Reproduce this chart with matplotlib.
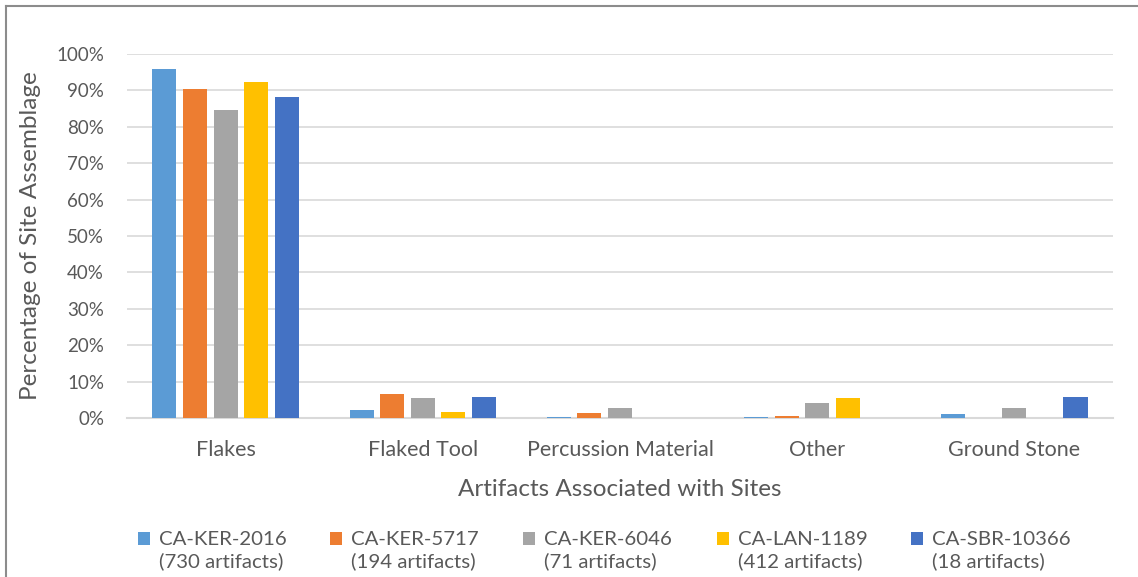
import matplotlib.pyplot as plt
import numpy as np
from matplotlib.patches import Patch
from matplotlib.lines import Line2D

plt.rcParams['font.family'] = ['Lato', 'DejaVu Sans']

categories = ['Flakes', 'Flaked Tool', 'Percussion Material', 'Other', 'Ground Stone']
sites = ['CA-KER-2016', 'CA-KER-5717', 'CA-KER-6046', 'CA-LAN-1189', 'CA-SBR-10366']
counts = ['(730 artifacts)', '(194 artifacts)', '(71 artifacts)', '(412 artifacts)', '(18 artifacts)']

# percent of each site's assemblage, per category
ker_2016 = [96.0, 2.2, 0.3, 0.4, 1.0]
ker_5717 = [90.4, 6.6, 1.5, 0.5, 0.0]
ker_6046 = [84.5, 5.6, 2.8, 4.2, 2.8]
lan_1189 = [92.3, 1.7, 0.0, 5.6, 0.0]
sbr_10366 = [88.3, 5.8, 0.0, 0.0, 5.8]

colors = ['#5B9BD5', '#ED7D31', '#A5A5A5', '#FFC000', '#4472C4']
series = [ker_2016, ker_5717, ker_6046, lan_1189, sbr_10366]
text_col = '#595959'

fig = plt.figure(figsize=(11.38, 5.77), dpi=100)
ax = fig.add_axes([0.1116, 0.2756, 0.8664, 0.6308])

x = np.arange(len(categories))
step = 0.155
width = 0.122
for i, (vals, c) in enumerate(zip(series, colors)):
    ax.bar(x + (i - 2) * step, np.array(vals) / 100, width=width, color=c, zorder=3)

ax.set_xlim(-0.5, len(categories) - 0.5)
ax.set_ylim(0, 1.0)
ticks = np.arange(0, 1.01, 0.1)
ax.set_yticks(ticks)
ax.set_yticklabels([f'{int(round(v * 100))}%' for v in ticks], fontsize=13.5, color=text_col)
ax.set_xticks(x)
ax.set_xticklabels(categories, fontsize=15.5, color=text_col)
ax.tick_params(axis='both', length=0)
ax.tick_params(axis='x', pad=15.5)
ax.tick_params(axis='y', pad=16.5)
ax.yaxis.grid(True, color='#D9D9D9', linewidth=1.2, zorder=0)
for s in ['top', 'right', 'left']:
    ax.spines[s].set_visible(False)
ax.spines['bottom'].set_color('#D9D9D9')
ax.spines['bottom'].set_linewidth(1.5)

ax.set_xlabel('Artifacts Associated with Sites', fontsize=17.5, color=text_col)
ax.set_ylabel('Percentage of Site Assemblage', fontsize=17.5, color=text_col)
ax.xaxis.set_label_coords(0.5, -0.169)
ax.yaxis.set_label_coords(-0.087, 0.5)

# legend: one small legend per site, swatch on the name line, count underneath
leg_x = [138, 330, 523, 717, 911]
for s, n, c, lx in zip(sites, counts, colors, leg_x):
    h = [Patch(facecolor=c, edgecolor='none'), Patch(facecolor='none', edgecolor='none')]
    leg = fig.legend(h, [s, n], loc='upper left', bbox_to_anchor=(lx / 1138, 0.079),
                     frameon=False, fontsize=14.7, handlelength=0.6, handleheight=0.6,
                     handletextpad=0.45, labelspacing=0.2, borderaxespad=0, borderpad=0)
    for t in leg.get_texts():
        t.set_color(text_col)

# outer chart border (left and top edges visible)
fig.add_artist(Line2D([6 / 1138, 6 / 1138], [0, 1 - 6 / 577], transform=fig.transFigure,
                      color='#8C8C8C', linewidth=1.5))
fig.add_artist(Line2D([6 / 1138, 1], [1 - 6 / 577, 1 - 6 / 577], transform=fig.transFigure,
                      color='#8C8C8C', linewidth=1.5))

fig.savefig('out.png', dpi=100)
